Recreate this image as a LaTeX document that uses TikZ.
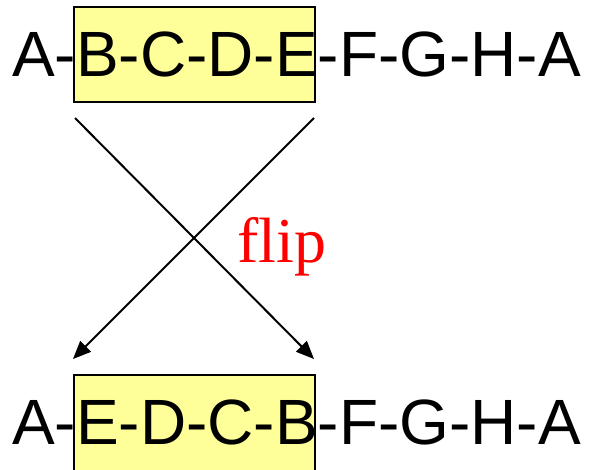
\documentclass[tikz,border=0pt]{standalone}
\usepackage{fontspec}
\setmainfont{Liberation Sans}
\newfontfamily\flipfont{Liberation Serif}
\usetikzlibrary{arrows.meta}
\definecolor{boxyellow}{HTML}{FFFF99}
\tikzset{
  hlbox/.style={draw=black, fill=boxyellow, line width=2pt},
  seqtext/.style={inner sep=0pt, anchor=base west, font=\fontsize{64}{70}\selectfont},
  fliparrow/.style={line width=2pt, -{Triangle[length=18pt,width=15pt]}},
  fliplabel/.style={inner sep=0pt, anchor=base west, text=red, font=\flipfont\fontsize{64}{70}\selectfont}
}
\begin{document}
\begin{tikzpicture}[x=1pt,y=-1pt]
\useasboundingbox (0,0) rectangle (589,469);
% highlight boxes
\path[hlbox] (74,7) rectangle (315,102);
\path[hlbox] (74,375) rectangle (315,474);
% sequences
\node[seqtext] (top) at (12,76) {A-B-C-D-E-F-G-H-A};
\node[seqtext] (bottom) at (12,444) {A-E-D-C-B-F-G-H-A};
% arrow ends
\coordinate (tl) at (75,118);
\coordinate (tr) at (314,118);
\coordinate (bl) at (73,359);
\coordinate (br) at (314,359);
\draw[fliparrow] (tl) -- (br);
\draw[fliparrow] (tr) -- (bl);
\node[fliplabel] (flip) at (237,262) {flip};
\end{tikzpicture}
\end{document}
